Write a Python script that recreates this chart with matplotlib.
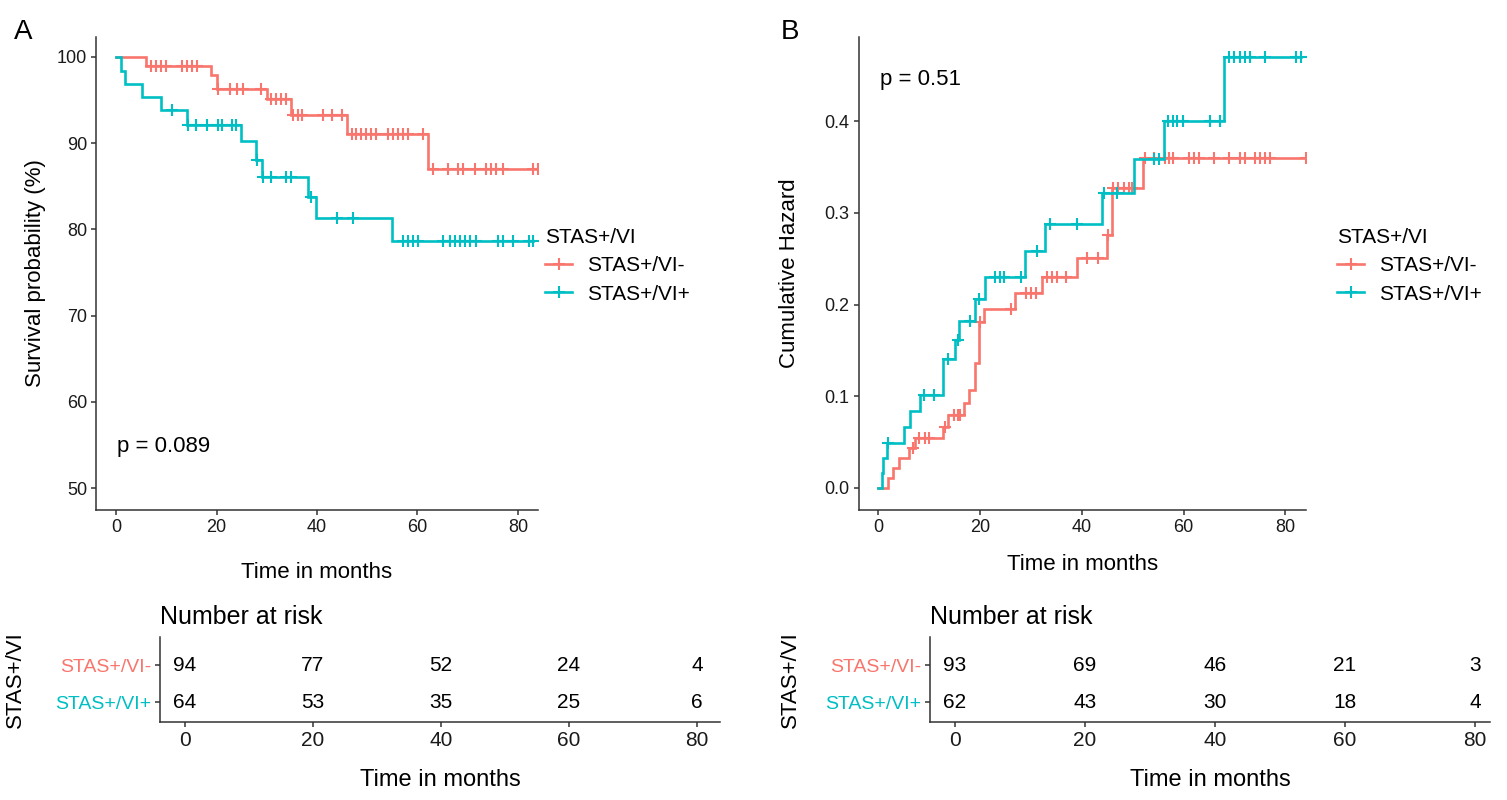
import numpy as np
import matplotlib
matplotlib.use("Agg")
import matplotlib.pyplot as plt
from matplotlib.lines import Line2D
from matplotlib import font_manager

# ---------------- data ----------------
groups = ["STAS+/VI-", "STAS+/VI+"]
legend_title = "STAS+/VI"

# Panel A: Kaplan-Meier survival (%)
a_neg_times = [6.0, 18.8, 20.0, 30.0, 34.9, 45.9, 62.1]
a_neg_surv = [98.9, 97.9, 96.3, 95.1, 93.3, 91.1, 87.0]
a_neg_end = 84.0
a_neg_censor = [7.0, 8.0, 9.0, 10.0, 13.1, 14.1, 15.1, 16.1, 20.3, 22.7, 24.0, 25.3, 28.9,
                30.9, 31.9, 32.9, 33.9, 35.2, 36.2, 37.1, 41.2, 43.0, 45.0, 46.9, 47.8,
                48.8, 49.8, 50.8, 51.8, 54.1, 55.1, 56.1, 57.1, 58.1, 61.1, 63.0, 66.1,
                68.1, 69.1, 71.4, 73.7, 74.7, 75.7, 77.0, 83.0, 84.0]

a_pos_times = [1.0, 1.8, 5.1, 8.9, 14.1, 24.9, 27.8, 29.0, 38.2, 39.9, 55.0]
a_pos_surv = [98.4, 96.9, 95.3, 93.8, 92.1, 90.2, 88.05, 86.05, 83.8, 81.3, 78.7]
a_pos_end = 83.0
a_pos_censor = [11.1, 14.3, 16.0, 18.0, 20.3, 21.0, 23.0, 23.8, 28.0, 29.2, 30.9, 33.9,
                34.8, 38.9, 44.0, 47.2, 57.1, 58.1, 59.1, 60.1, 65.1, 66.4, 67.4, 68.4,
                69.4, 70.4, 71.7, 76.0, 77.0, 79.0, 82.2, 83.0]

# Panel B: cumulative hazard
b_neg_times = [2.0, 3.0, 4.0, 6.15, 7.3, 12.8, 13.8, 16.8, 17.9, 19.1, 19.9, 20.8,
               26.9, 32.1, 39.0, 44.9, 45.9, 52.1]
b_neg_haz = [0.0105, 0.0214, 0.0324, 0.0432, 0.054, 0.067, 0.0795, 0.0923, 0.107,
             0.136, 0.181, 0.195, 0.212, 0.230, 0.251, 0.2757, 0.327, 0.36]
b_neg_end = 84.0
b_neg_censor = [6.9, 8.1, 9.1, 9.9, 13.2, 14.8, 15.6, 16.1, 20.1, 26.1, 29.0, 30.0,
                31.0, 33.1, 34.1, 35.1, 36.9, 41.0, 43.1, 45.2, 46.2, 47.2, 48.2, 49.2,
                49.8, 52.4, 54.1, 56.4, 57.2, 58.0, 61.0, 62.0, 63.0, 66.0, 69.0, 71.0,
                72.0, 74.0, 75.0, 76.0, 77.0, 84.0]

b_pos_times = [0.7, 0.9, 1.7, 5.0, 6.2, 8.3, 12.8, 15.0, 15.9, 19.1, 21.0, 28.9,
               32.8, 43.9, 50.2, 56.1, 68.0]
b_pos_haz = [0.016, 0.0324, 0.0487, 0.067, 0.084, 0.101, 0.141, 0.161, 0.182, 0.206,
             0.230, 0.258, 0.288, 0.322, 0.359, 0.400, 0.470]
b_pos_end = 83.0
b_pos_censor = [2.0, 9.0, 11.0, 13.8, 15.6, 18.1, 19.9, 23.0, 24.0, 24.7, 28.1, 31.2,
                33.8, 39.0, 44.3, 46.9, 54.1, 55.1, 57.0, 57.9, 58.8, 59.8, 65.1, 67.2,
                69.0, 70.0, 71.0, 72.0, 73.0, 76.0, 82.0, 83.0]

risk_times = [0, 20, 40, 60, 80]
a_risk_neg = [94, 77, 52, 24, 4]
a_risk_pos = [64, 53, 35, 25, 6]
b_risk_neg = [93, 69, 46, 21, 3]
b_risk_pos = [62, 43, 30, 18, 4]

pval_a = "p = 0.089"
pval_b = "p = 0.51"

# ---------------- style ----------------
RED = "#F8766D"
TEAL = "#00BFC4"
AXC = "#333333"
W, H = 1507, 800

avail = {f.name for f in font_manager.fontManager.ttflist}
MAIN_FONT = "Liberation Sans" if "Liberation Sans" in avail else "DejaVu Sans"
TAB_FONT = "Liberation Sans Narrow" if "Liberation Sans Narrow" in avail else MAIN_FONT
plt.rcParams["font.family"] = [MAIN_FONT, "DejaVu Sans"]

fig = plt.figure(figsize=(W / 100, H / 100), dpi=100)


def px_axes(x0, y_top, x1, y_bot):
    return fig.add_axes([x0 / W, 1 - y_bot / H, (x1 - x0) / W, (y_bot - y_top) / H])


def style_axes(ax):
    for s in ["top", "right"]:
        ax.spines[s].set_visible(False)
    for s in ["left", "bottom"]:
        ax.spines[s].set_color(AXC)
        ax.spines[s].set_linewidth(1.1)
    ax.tick_params(colors=AXC, width=1.1, length=3.5, pad=3, labelsize=13,
                   labelcolor="#1a1a1a")


def step_curve(ax, start, times, vals, end, censor, color):
    t = np.concatenate([[0.0], times, [end]])
    v = np.concatenate([[start], vals, [vals[-1]]])
    ax.step(t, v, where="post", color=color, lw=1.9, solid_joinstyle="miter")
    idx = np.searchsorted(t, np.asarray(censor), side="right") - 1
    ax.plot(censor, v[idx], linestyle="none", marker="+", ms=8, mew=1.5, color=color)


def add_legend(ax, x_px, y_px):
    handles = [Line2D([], [], color=RED, lw=1.9, marker="+", ms=9, mew=1.5),
               Line2D([], [], color=TEAL, lw=1.9, marker="+", ms=9, mew=1.5)]
    leg = ax.legend(handles, groups, title=legend_title, loc="upper left",
                    bbox_to_anchor=(x_px / W, 1 - y_px / H),
                    bbox_transform=fig.transFigure, frameon=False, fontsize=15,
                    title_fontsize=15, handlelength=1.3, handletextpad=0.7,
                    labelspacing=0.45, borderaxespad=0, borderpad=0,
                    alignment="left")
    return leg


# ---------------- Panel A ----------------
axA = px_axes(96, 37, 538, 510)
style_axes(axA)
step_curve(axA, 100.0, a_neg_times, a_neg_surv, a_neg_end, a_neg_censor, RED)
step_curve(axA, 100.0, a_pos_times, a_pos_surv, a_pos_end, a_pos_censor, TEAL)
axA.set_xlim(-4.0, 84.0)
axA.set_ylim(47.45, 102.3)
axA.set_xticks([0, 20, 40, 60, 80])
axA.set_yticks([50, 60, 70, 80, 90, 100])
axA.set_xlabel("Time in months", fontsize=16, va="center")
axA.xaxis.set_label_coords(0.5, -(573 - 510) / 473)
axA.set_ylabel("Survival probability (%)", fontsize=16, va="center")
axA.yaxis.set_label_coords((35 - 96) / 442, 0.5)
axA.text(0.2, 54.8, pval_a, fontsize=16, ha="left", va="center")
add_legend(axA, 545, 228)
fig.text(23 / W, 1 - 32 / H, "A", fontsize=20, ha="center", va="center")

# ---------------- Panel B ----------------
axB = px_axes(858.6, 37, 1305.7, 510)
style_axes(axB)
step_curve(axB, 0.0, b_neg_times, b_neg_haz, b_neg_end, b_neg_censor, RED)
step_curve(axB, 0.0, b_pos_times, b_pos_haz, b_pos_end, b_pos_censor, TEAL)
axB.set_xlim(-3.85, 84.0)
axB.set_ylim(-0.024, 0.4916)
axB.set_xticks([0, 20, 40, 60, 80])
axB.set_yticks([0.0, 0.1, 0.2, 0.3, 0.4])
axB.set_yticklabels([f"{v:.1f}" for v in [0.0, 0.1, 0.2, 0.3, 0.4]])
axB.set_xlabel("Time in months", fontsize=16, va="center")
axB.xaxis.set_label_coords(0.5, -(565 - 510) / 473)
axB.set_ylabel("Cumulative Hazard", fontsize=16, va="center")
axB.yaxis.set_label_coords((790 - 858.6) / 447, 0.5)
axB.text(0.4, 0.445, pval_b, fontsize=16, ha="left", va="center")
add_legend(axB, 1337, 228)
fig.text(790 / W, 1 - 32 / H, "B", fontsize=20, ha="center", va="center")


# ---------------- Risk tables ----------------
def risk_table(x0, x1, xlim, neg, pos, ylab_x):
    ax = px_axes(x0, 637, x1, 722)
    style_axes(ax)
    ax.set_xlim(*xlim)
    ax.set_ylim(0.46, 2.76)
    ax.set_xticks(risk_times)
    ax.set_yticks([2, 1])
    ax.set_yticklabels(groups, fontfamily=TAB_FONT, fontsize=14)
    for lbl, c in zip(ax.get_yticklabels(), [RED, TEAL]):
        lbl.set_color(c)
    for lbl in ax.get_xticklabels():
        lbl.set_fontfamily(TAB_FONT)
        lbl.set_fontsize(15)
    for t, n in zip(risk_times, neg):
        ax.text(t, 2, str(n), ha="center", va="center", fontsize=15, fontfamily=TAB_FONT)
    for t, n in zip(risk_times, pos):
        ax.text(t, 1, str(n), ha="center", va="center", fontsize=15, fontfamily=TAB_FONT)
    ax.text(0, (722 - 617) / 85, "Number at risk", transform=ax.transAxes,
            ha="left", va="center", fontsize=18, fontfamily=TAB_FONT)
    ax.set_xlabel("Time in months", fontsize=17, fontfamily=TAB_FONT, va="center")
    ax.xaxis.set_label_coords(0.5, -(780 - 722) / 85)
    ax.set_ylabel(legend_title, fontsize=16, va="center")
    ax.yaxis.set_label_coords((ylab_x - x0) / (x1 - x0), 0.5)
    return ax


risk_table(160, 720, (-3.9, 83.6), a_risk_neg, a_risk_pos, 15)
risk_table(930, 1490, (-3.85, 82.3), b_risk_neg, b_risk_pos, 790)

fig.savefig("out.png", dpi=100, facecolor="white")
